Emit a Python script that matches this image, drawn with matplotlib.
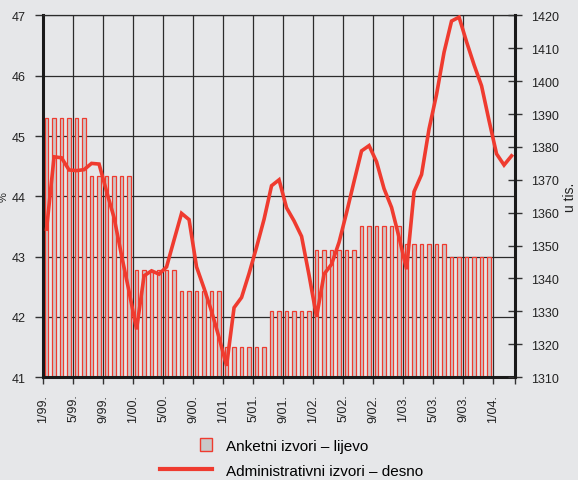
import numpy as np
import matplotlib
matplotlib.use('Agg')
import matplotlib.pyplot as plt
import matplotlib.patches as mpatches
from matplotlib.lines import Line2D
from matplotlib.legend_handler import HandlerPatch

plt.rcParams['font.family'] = ['Liberation Sans', 'DejaVu Sans']

# ── Data ────────────────────────────────────────────────
# survey (half-year values, shown for each month), left axis, %
survey_halfyear = [45.30, 44.33, 42.77, 42.42, 41.50, 42.10, 43.10, 43.50, 43.20, 43.00]
months_per_value = 6

# administrative sources, monthly from 1/99 to 3/04, right axis, thousands
admin = [1355.0, 1377.0, 1376.7, 1373.0, 1372.8, 1373.1, 1375.0, 1374.8, 1366.5, 1358.5,
         1347.0, 1336.0, 1324.5, 1340.8, 1342.3, 1341.3, 1343.5, 1351.7, 1359.8, 1357.9,
         1343.5, 1337.0, 1330.0, 1322.0, 1313.4, 1331.1, 1334.2, 1341.5, 1349.5, 1358.0,
         1368.2, 1370.0, 1361.5, 1357.5, 1352.8, 1341.0, 1328.3, 1341.3, 1344.3, 1351.0,
         1360.0, 1369.5, 1378.8, 1380.4, 1375.5, 1367.3, 1361.6, 1352.5, 1342.8, 1366.4,
         1371.6, 1385.5, 1396.0, 1408.8, 1418.3, 1419.5, 1412.0, 1405.0, 1398.6, 1388.0,
         1377.9, 1374.5, 1377.3]

tick_months = list(range(0, 61, 4))
tick_labels = ['1/99.', '5/99.', '9/99.', '1/00.', '5/00.', '9/00.', '1/01.', '5/01.',
               '9/01.', '1/02.', '5/02.', '9/02.', '1/03.', '5/03.', '9/03.', '1/04.']

survey = np.repeat(survey_halfyear, months_per_value)

BG = '#e6e7e9'
RED = '#ef3b2f'

fig = plt.figure(figsize=(5.78, 4.81), dpi=100, facecolor=BG)
ax = fig.add_axes([0.0751, 0.2141, 0.8159, 0.7516], facecolor=BG)
ax2 = ax.twinx()

# ── Bars (left axis) ────────────────────────────────────
x_bar = np.arange(len(survey)) + 0.42
ax.bar(x_bar, survey, width=0.5, color='#cdc6c6', edgecolor=RED, linewidth=0.9, zorder=2)
ax.set_xlim(0, 62.88)
ax.set_ylim(41, 47)
ax.set_yticks(range(41, 48))
ax.set_axisbelow(True)
ax.grid(True, color='#2b2b2b', linewidth=0.9)

ax.set_xticks(tick_months)
ax.set_xticklabels(tick_labels, rotation=90, ha='center', va='top')
ax.set_xticks([62.88], minor=True)
ax.tick_params(axis='x', which='both', direction='out', length=5, width=1,
               pad=7, labelsize=9, color='#333333', labelcolor='#222222')
ax.tick_params(axis='y', direction='out', length=6, width=1, pad=7,
               labelsize=9, color='#333333', labelcolor='#222222')

for side in ['left', 'bottom']:
    ax.spines[side].set_linewidth(2.2)
    ax.spines[side].set_color('#1a1a1a')
ax.spines['top'].set_linewidth(0.9)
ax.spines['top'].set_color('#2b2b2b')
ax.spines['right'].set_visible(False)

ax.set_ylabel('%', fontsize=8, color='#222222')
ax.yaxis.set_label_coords(-0.073, 0.5)

# ── Line (right axis) ───────────────────────────────────
x_line = np.arange(len(admin)) + 0.42
ax2.plot(x_line, admin, color=RED, linewidth=2.6, solid_joinstyle='miter', zorder=3)
ax2.set_ylim(1310, 1420)
ax2.set_yticks(range(1310, 1421, 10))
ax2.tick_params(axis='y', direction='inout', length=10, width=1, pad=6.5,
                labelsize=9, color='#333333', labelcolor='#222222')
for side in ['left', 'bottom', 'top']:
    ax2.spines[side].set_visible(False)
ax2.spines['right'].set_linewidth(2.2)
ax2.spines['right'].set_color('#1a1a1a')
ax2.set_ylabel('u tis.', fontsize=10, color='#222222', labelpad=3)


# ── Legend ──────────────────────────────────────────────
def square_at_right(legend, orig_handle, xdescent, ydescent, width, height, fontsize):
    w, h = 8.6, 9.4
    return mpatches.Rectangle((width - w - xdescent, -ydescent + (height - h) / 2), w, h)


bar_proxy = mpatches.Patch(facecolor='#c9c9c9', edgecolor=RED, linewidth=1)
line_proxy = Line2D([], [], color=RED, linewidth=3)
fig.legend([bar_proxy, line_proxy],
           ['Anketni izvori – lijevo', 'Administrativni izvori – desno'],
           loc='upper left', bbox_to_anchor=(160 / 578, 1 - 440 / 481),
           frameon=False, fontsize=11, handlelength=3.4, handletextpad=0.9,
           labelspacing=0.7, borderpad=0, borderaxespad=0,
           handler_map={bar_proxy: HandlerPatch(patch_func=square_at_right)})

plt.savefig('out.png', dpi=100, facecolor=BG)
plt.close()
